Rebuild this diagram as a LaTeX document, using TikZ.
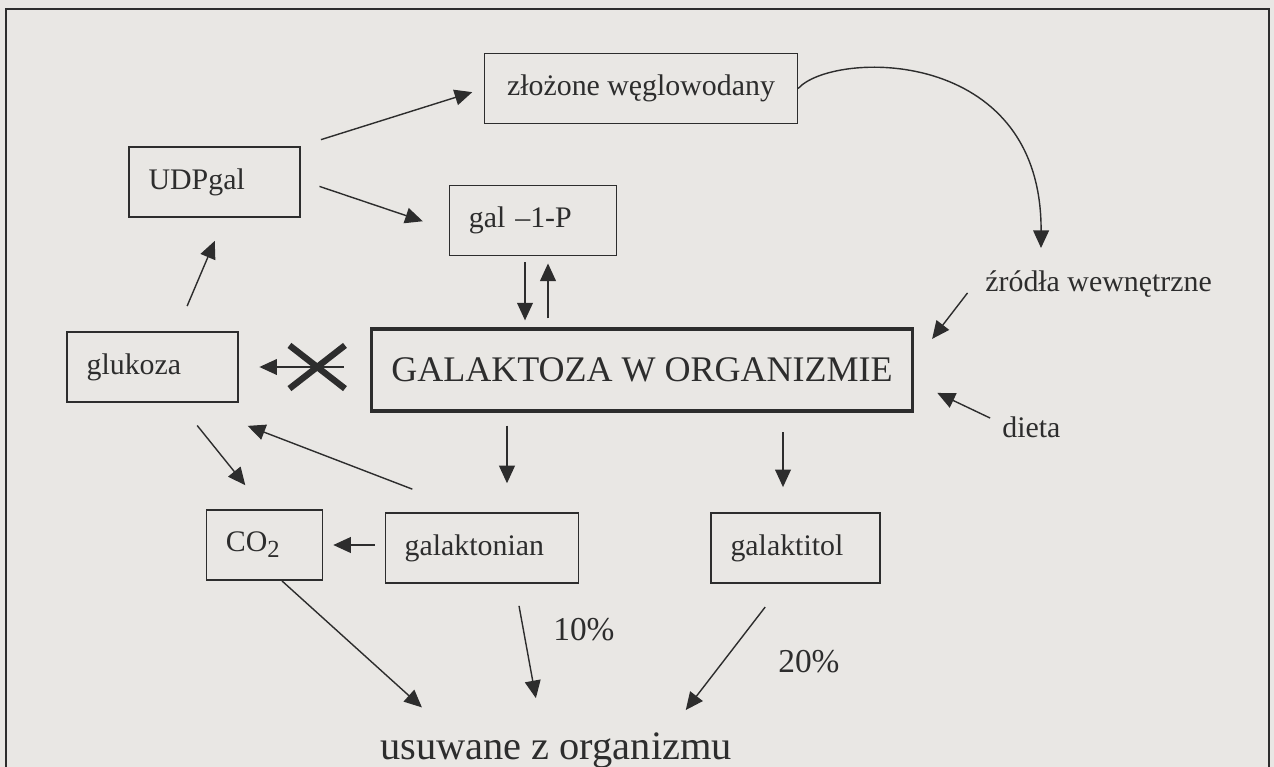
\documentclass[tikz,border=0pt]{standalone}
\usepackage{fontspec}
\setmainfont{Liberation Serif}
\usetikzlibrary{arrows.meta,shapes.misc}
\definecolor{ink}{RGB}{45,45,45}
\definecolor{paper}{RGB}{233,231,228}
\tikzset
{
    box/.style    = {draw=ink, line width=0.9pt, text=ink, font=\fontsize{17}{20}\selectfont, minimum height=40pt, inner xsep=11pt, align=left},
    bigbox/.style = {draw=ink, line width=2pt, text=ink, font=\fontsize{20.5}{24}\selectfont, minimum width=308pt, minimum height=46.5pt},
    txt/.style    = {text=ink, inner sep=0pt, font=\fontsize{17}{20}\selectfont},
    arr/.style    = {-{Triangle[length=10pt,width=9pt]}, draw=ink, line width=0.8pt},
    krzyz/.style  = {cross out, draw=ink, line width=3.6pt, minimum width=28pt, minimum height=21pt, inner sep=0pt}
}

\begin{document}
\begin{tikzpicture}[x=0.02cm, y=-0.02cm]
    \fill [paper] (0,0) rectangle (1274,767);
    \useasboundingbox (0,0) rectangle (1274,767);
    \draw [ink, line width=1.1pt] (6,767) -- (6,9) -- (1269,9) -- (1269,767);

    % boxes
    \node [box, minimum width=178pt, align=center] (zlozone) at (641,88.5) {złożone węglowodany};
    \node [box, text width=75pt] (udpgal) at (214.5,182) {UDPgal};
    \node [box, text width=73pt] (gal1p) at (533,220.5) {gal –1-P};
    \node [box, text width=75pt] (glukoza) at (152.5,367) {glukoza};
    \node [bigbox] (galaktoza) at (642,370) {GALAKTOZA W ORGANIZMIE};
    \node [box, text width=44pt] (co2) at (264.5,545) {CO\raisebox{-0.45ex}{\fontsize{14}{14}\selectfont 2}};
    \node [box, text width=88pt] (galaktonian) at (482,548) {galaktonian};
    \node [box, text width=74pt] (galaktitol) at (795.5,548) {galaktitol};

    % free labels
    \node [txt, anchor=base west] (zrodla) at (985,291) {źródła wewnętrzne};
    \node [txt, anchor=base west] (dieta) at (1002,437) {dieta};
    \node [txt, anchor=base west, font=\fontsize{19}{22}\selectfont] (proc10) at (553,640) {10\%};
    \node [txt, anchor=base west, font=\fontsize{19}{22}\selectfont] (proc20) at (778,672) {20\%};
    \node [txt, anchor=base, font=\fontsize{23}{27}\selectfont] (usuwane) at (556,759) {usuwane z organizmu};

    % arrows
    \draw [arr, shorten <=12.2pt, shorten >=6.9pt] (udpgal.north east) -- (zlozone.west);
    \draw [arr, shorten <=11.4pt, shorten >=15.6pt] ([shift={(0,-2)}]udpgal.east) -- ([shift={(0,9.5)}]gal1p.west);
    \draw [arr, shorten <=15.5pt, shorten >=14.2pt] ([shift={(24,0)}]glukoza.north) -- ([shift={(10,0)}]udpgal.south);
    \draw [arr, shorten <=3.4pt, shorten >=4pt] ([shift={(-8,0)}]gal1p.south) -- ([shift={(-8,0)}]gal1p.south |- galaktoza.north);
    \draw [arr, shorten <=5.1pt, shorten >=4pt] ([shift={(15,0)}]gal1p.south |- galaktoza.north) -- ([shift={(15,0)}]gal1p.south);
    \draw [arr, shorten <=14.7pt, shorten >=11.9pt] (glukoza.east -| galaktoza.west) -- (glukoza.east);
    \path (glukoza.east -| galaktoza.west) -- (glukoza.east) node [krzyz, pos=0.4] (krzyzyk) {};
    \draw [arr, shorten <=7.4pt, shorten >=16.4pt] ([shift={(25,0)}]galaktonian.north |- galaktoza.south) -- ([shift={(25,0)}]galaktonian.north);
    \draw [arr, shorten <=11.3pt, shorten >=14.2pt] ([shift={(-12.5,0)}]galaktitol.north |- galaktoza.south) -- ([shift={(-12.5,0)}]galaktitol.north);
    \draw [arr, shorten <=36.4pt, shorten >=36.4pt] ([shift={(-10,0)}]galaktonian.north) -- ([shift={(35.5,0)}]glukoza.south);
    \draw [arr, shorten <=16.5pt, shorten >=17.4pt] ([shift={(26.5,0)}]glukoza.south) -- (co2.north);
    \draw [arr, shorten <=5.7pt, shorten >=5.7pt] (co2.east -| galaktonian.west) -- (co2.east);
    \draw [arr, shorten >=43.8pt] ([shift={(17.5,0)}]co2.south) -- ([shift={(-77,0)}]usuwane.base);
    \draw [arr, shorten <=12.7pt, shorten >=35.2pt] ([shift={(33,0)}]galaktonian.south) -- ([shift={(-9,0)}]usuwane.base);
    \draw [arr, shorten <=16.6pt, shorten >=35.2pt] ([shift={(-12.5,0)}]galaktitol.south) -- ([shift={(92,0)}]usuwane.base);
    \draw [arr, shorten <=1.4pt, shorten >=16.6pt] ([shift={(-16,0)}]zrodla.base west) -- ([shift={(0,-8)}]galaktoza.east);
    \draw [arr, shorten <=7.5pt, shorten >=14.5pt] ([shift={(0,-13.3)}]dieta.base west) -- ([shift={(0,12)}]galaktoza.east);
    \draw [arr] (zlozone.east) .. controls +(34,-38) and +(1,-203) .. ([shift={(56,-43)}]zrodla.base west);
\end{tikzpicture}
\end{document}
